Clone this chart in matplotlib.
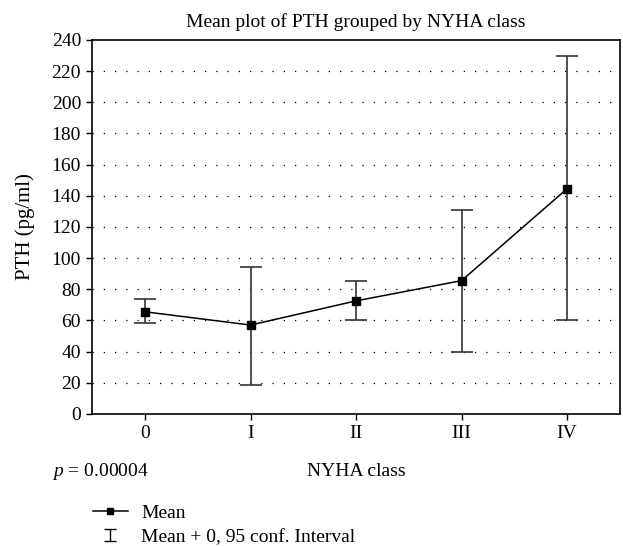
import numpy as np
import matplotlib.pyplot as plt
from matplotlib.lines import Line2D
from matplotlib.path import Path

plt.rcParams['font.family'] = ['Liberation Serif', 'DejaVu Serif']
plt.rcParams['mathtext.fontset'] = 'custom'
plt.rcParams['mathtext.rm'] = 'Liberation Serif'
plt.rcParams['mathtext.it'] = 'Liberation Serif:italic'

classes = ['0', 'I', 'II', 'III', 'IV']
means = [65.5, 57.0, 72.5, 85.5, 144.5]
upper = [73.5, 94.5, 85.0, 131.0, 229.5]
lower = [58.5, 18.5, 60.0, 40.0, 60.0]


def plot():
    fig = plt.figure(figsize=(6.23, 5.46), dpi=100)
    ax = fig.add_axes([0.148, 0.242, 0.847, 0.685])
    x = np.arange(len(classes))
    m = np.array(means)
    err = np.array([m - np.array(lower), np.array(upper) - m])

    for yv in range(20, 240, 20):
        ax.axhline(yv, color='k', lw=0.9, ls=(0, (1, 8)), zorder=0)

    ax.errorbar(x, m, yerr=err, fmt='none', ecolor='#333333', elinewidth=1.2,
                capsize=8, capthick=1.2, zorder=2)
    ax.plot(x, m, '-', color='k', lw=1.1, marker='s', ms=6, mfc='k', mec='k', zorder=3)

    ax.set_xlim(-0.5, 4.5)
    ax.set_ylim(0, 240)
    ax.set_yticks(range(0, 241, 20))
    ax.set_xticks(x)
    ax.set_xticklabels(classes)
    ax.tick_params(labelsize=14, length=4.5, width=1)
    for s in ax.spines.values():
        s.set_linewidth(1.2)
    ax.set_ylabel('PTH (pg/ml)', fontsize=15, labelpad=12)
    ax.set_title('Mean plot of PTH grouped by NYHA class', fontsize=14, pad=9)

    fig.text(0.572, 0.137, 'NYHA class', fontsize=14, ha='center', va='center')
    fig.text(0.083, 0.137, '$p$ = 0.00004', fontsize=14, ha='left', va='center')

    # little "I" glyph for the confidence interval entry
    ibar = Path([(-0.9, -1), (0.9, -1), (0, -1), (0, 1), (-0.9, 1), (0.9, 1)],
                [Path.MOVETO, Path.LINETO, Path.MOVETO, Path.LINETO, Path.MOVETO, Path.LINETO])
    handles = [Line2D([0], [0], color='k', lw=1.1, marker='s', ms=5),
               Line2D([0], [0], color='k', lw=0, marker=ibar, ms=9, mew=1, fillstyle='none')]
    fig.legend(handles, ['Mean', 'Mean + 0, 95 conf. Interval'],
               loc='upper left', bbox_to_anchor=(0.149, 0.076), frameon=False,
               fontsize=14, handlelength=1.8, handletextpad=0.7,
               labelspacing=0.32, borderaxespad=0, borderpad=0)

    fig.savefig('out.png', dpi=100)


plot()
